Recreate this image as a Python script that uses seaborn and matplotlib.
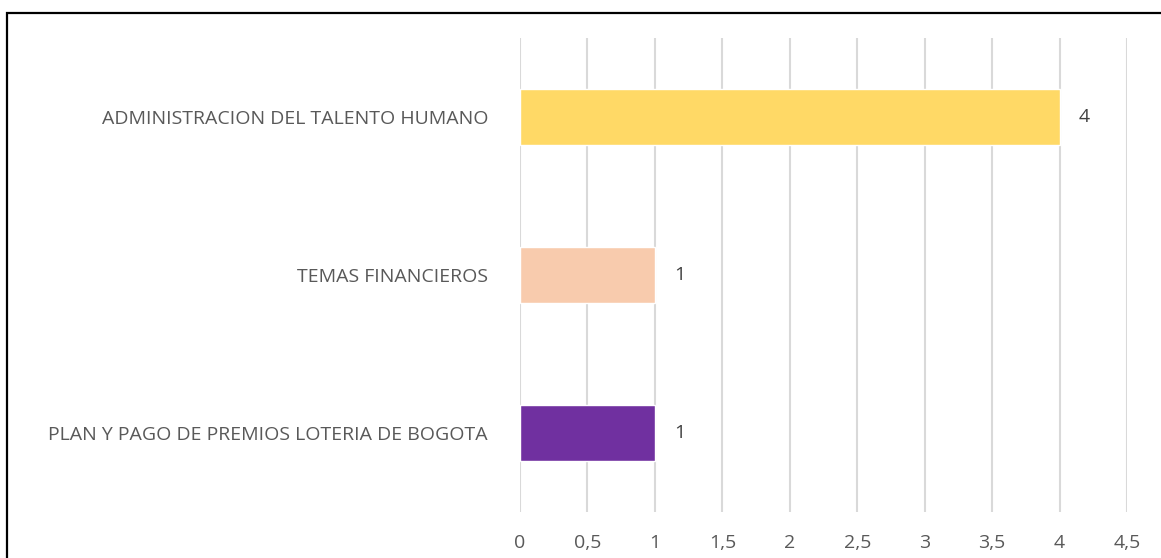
import numpy as np
import pandas as pd
import seaborn as sns
import matplotlib.pyplot as plt
from matplotlib.patches import Rectangle
from matplotlib.ticker import FuncFormatter, MultipleLocator

categorias = ["ADMINISTRACION DEL TALENTO HUMANO", "TEMAS FINANCIEROS",
              "PLAN Y PAGO DE PREMIOS LOTERIA DE BOGOTA"]
valores = [4, 1, 1]
colores = ["#FFD966", "#F8CBAD", "#7030A0"]

sns.set_style("white")
plt.rcParams['font.family'] = ['Open Sans', 'DejaVu Sans']

df = pd.DataFrame({"Tema": categorias, "Cantidad": valores})

fig = plt.figure(figsize=(11.61, 5.58), dpi=100)
ax = fig.add_axes([520 / 1161, 46 / 558, 607 / 1161, 474 / 558])

sns.barplot(data=df, x="Cantidad", y="Tema", hue="Tema", palette=colores,
            width=0.36, legend=False, ax=ax, saturation=1)

ax.set_xlim(0, 4.5)
ax.xaxis.set_major_locator(MultipleLocator(0.5))
ax.xaxis.set_major_formatter(FuncFormatter(lambda v, p: f"{v:g}".replace(".", ",")))
ax.grid(axis="x", color="#D9D9D9", linewidth=1.5)
ax.set_axisbelow(True)
for s in ax.spines.values():
    s.set_visible(False)
ax.set_xlabel("")
ax.set_ylabel("")
ax.tick_params(axis="both", length=0, labelcolor="#595959", labelsize=14)
ax.tick_params(axis="y", pad=23)
ax.tick_params(axis="x", pad=16)

for cont in ax.containers:
    ax.bar_label(cont, padding=14, color="#404040", fontsize=14)

fig.patches.append(Rectangle((7 / 1161, -0.02), 1.05, 1 - 12.5 / 558 + 0.02,
                             transform=fig.transFigure, fill=False,
                             edgecolor="black", linewidth=1.6))

fig.savefig("out.png", dpi=100)
